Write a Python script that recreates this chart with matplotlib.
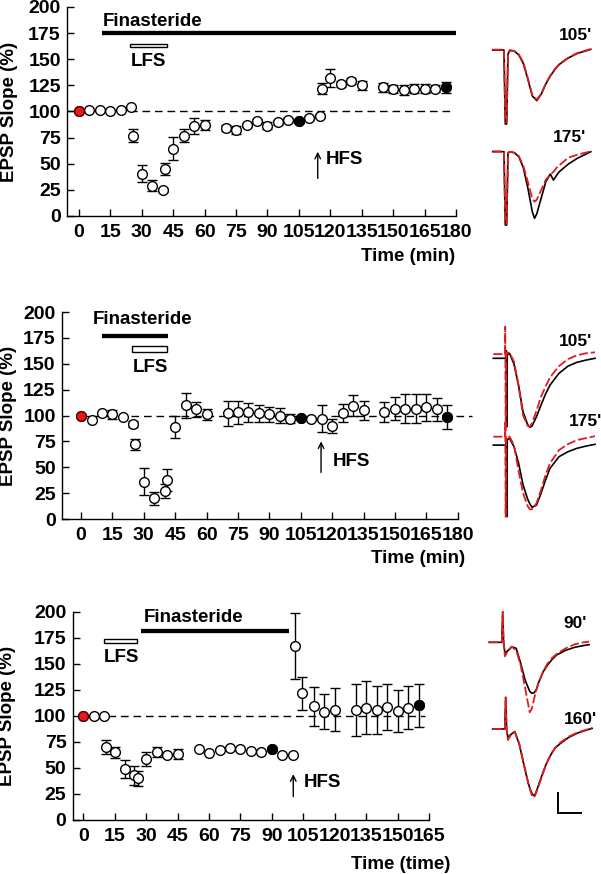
import matplotlib
matplotlib.use('Agg')
import matplotlib.pyplot as plt
from matplotlib.patches import Rectangle

plt.rcParams['font.family'] = ['Liberation Sans', 'DejaVu Sans']
plt.rcParams['font.weight'] = 'bold'
plt.rcParams['axes.labelweight'] = 'bold'
plt.rcParams['font.size'] = 13

# ---------------- data: time course (EPSP slope, % of baseline) ----------------
# panel A: finasteride from 10 min to the end, LFS then HFS
t_a = [0, 5, 10, 15, 20, 25, 26, 30, 35, 40, 41, 45, 50, 55, 60, 70, 75, 80, 85, 90,
       95, 100, 105, 110, 115, 116, 120, 125, 130, 135, 145, 150, 155, 160, 165, 170, 175]
y_a = [100, 101.5, 101, 100, 101, 104, 77, 40.5, 29, 25, 45, 64.5, 77, 86, 87, 84.5, 82, 87, 91, 86.5,
       89.5, 92, 91, 94, 95.5, 122, 132, 126, 129, 125, 123, 121.5, 120.5, 122, 122, 122, 123]
e_a = [0, 0, 0, 0, 0, 0, 6, 8, 5, 2, 6, 11, 6, 8, 5, 3, 4, 2, 2, 3,
       2, 2, 2, 2, 2, 5, 9, 3, 3, 4, 4, 4, 5, 4, 4, 3, 5]

# panel B: finasteride only around LFS
t_b = [0, 5, 10, 15, 20, 25, 26, 30, 35, 40, 41, 45, 50, 55, 60, 70, 75, 80, 85, 90,
       95, 100, 105, 110, 115, 120, 125, 130, 135, 145, 150, 155, 160, 165, 170, 175]
y_b = [100, 96, 102, 101, 99, 92, 72, 36, 20, 27, 38, 89, 110, 106, 101, 102, 103, 103, 102, 101,
       100, 97, 98, 97, 97, 90, 102.5, 109.5, 105, 103.5, 106.5, 106.5, 106.5, 108, 106, 98.5]
e_b = [0, 0, 0, 4, 0, 3, 5, 13, 6, 7, 10.5, 11, 12, 7, 5, 12, 11, 9, 8, 7,
       7, 4, 0, 0, 13, 7, 9, 10, 9, 10, 11, 14, 14, 13, 11, 12]

# panel C: finasteride after LFS
t_c = [0, 5, 10, 11, 15, 20, 24, 26, 30, 35, 40, 45, 55, 60, 65, 70, 75, 80, 85, 90,
       95, 100, 101, 104.5, 110, 115, 120, 130, 135, 140, 145, 150, 155, 160]
y_c = [100, 100, 100, 70, 65, 49, 43, 40, 58.5, 65.5, 62.5, 63.5, 68, 64, 67, 69, 68.5, 66, 65, 68,
       62.4, 62.4, 167, 121.5, 109, 104, 106, 106, 108, 105.7, 108.8, 104.7, 108, 110]
e_c = [0, 0, 0, 7, 5, 9, 9, 7, 7, 5, 0, 5, 0, 0, 0, 0, 0, 0, 0, 0,
       0, 0, 32, 16, 19, 17, 21, 25, 25, 23, 22, 20, 21, 21]

# filled symbols (times at which the sample traces were taken)
red_times = [0]
black_a = [105, 175]
black_b = [105, 175]
black_c = [90, 160]

# drug / stimulation windows (min)
fin_a = (10.8, 180)
fin_b = (9.9, 41.7)
fin_c = (27.3, 98.3)
lfs_a = (24.3, 41.9)
lfs_b = (24.5, 41.2)
lfs_c = (9.9, 25.5)
hfs_a = 114
hfs_b = 114.7
hfs_c = 100.2

xticks_a = list(range(0, 181, 15))
xticks_c = list(range(0, 166, 15))
yticks = list(range(0, 201, 25))

# ---------------- data: sample field EPSPs (ms, mV) ----------------
tr_t1 = [-2.8, -0.3, 0, 0.3, 0.6, 1, 2, 3, 4, 5, 6, 7, 8, 9, 10, 11, 12, 14, 16, 19]
a105_blk = [0, 0, -3.7, -3.7, -0.2, -0.03, -0.05, -0.25, -0.67, -1.45, -2.3, -2.53, -2.2, -1.7,
            -1.3, -0.98, -0.72, -0.4, -0.17, 0.03]
a105_red = [0.02, 0.02, -3.6, -3.6, -0.15, 0, -0.05, -0.22, -0.62, -1.4, -2.25, -2.48, -2.18, -1.68,
            -1.28, -0.95, -0.7, -0.38, -0.15, 0.05]

tr_t2 = [-2.8, -0.3, 0, 0.3, 0.6, 1, 2, 3, 4, 5, 6, 6.5, 7, 8, 9, 10, 10.7, 11.5, 12, 14, 16, 19]
a175_blk = [0, 0, -3.67, -3.67, -0.08, 0, -0.05, -0.25, -0.8, -1.8, -3.0, -3.33, -3.1, -2.3, -1.5,
            -1.12, -1.42, -1.15, -1.0, -0.62, -0.33, 0]
a175_red = [0.02, 0.02, -3.6, -3.6, -0.05, 0, -0.05, -0.22, -0.7, -1.5, -2.35, -2.5, -2.4, -1.9, -1.4,
            -1.15, -1.0, -0.78, -0.68, -0.3, -0.15, 0.02]

tr_t3 = [-2.6, 0, 0.05, 0.15, 0.3, 0.4, 0.5, 1, 2, 3, 4, 5, 5.5, 6, 7, 8, 9, 10, 12, 14, 16, 18, 20]
b105_red = [0.13, 0.13, 1.5, -3.7, 0.13, 0.2, 0.2, 0.2, -0.25, -1.42, -2.92, -3.45, -3.5, -3.33, -2.7,
            -2.0, -1.5, -1.03, -0.47, -0.12, 0.07, 0.17, 0.22]
b105_blk = [-0.08, -0.08, -0.08, -0.08, 0.3, -3.5, 0.1, 0.17, -0.37, -1.42, -2.75, -3.38, -3.53, -3.47,
            -3.0, -2.42, -1.87, -1.42, -0.83, -0.47, -0.28, -0.17, -0.08]
b175_red = [0.2, 0.2, 0.9, -3.8, 0.2, 0.25, 0.25, 0.2, -0.22, -1.5, -2.6, -3.25, -3.43, -3.43, -3.13,
            -2.47, -1.72, -1.13, -0.47, -0.17, 0.03, 0.13, 0.23]
b175_blk = [-0.22, -0.22, -0.22, -0.22, 0.1, -3.8, 0.05, 0.12, -0.3, -1.1, -2.2, -2.9, -3.15, -3.33,
            -3.22, -2.63, -1.97, -1.38, -0.8, -0.55, -0.38, -0.27, -0.18]

tr_t4 = [-3, -0.2, 0, 0.2, 0.5, 1, 2, 3, 4, 5, 6, 6.5, 7, 7.5, 8, 9, 10, 11, 12, 14, 16, 18, 19.2]
c90_red = [0, 0, 1.53, 0, -0.7, -0.5, -0.22, -0.4, -1.15, -2.3, -3.5, -3.3, -2.8, -2.38, -2.0,
           -1.45, -1.05, -0.78, -0.58, -0.3, -0.1, 0.0, 0.03]
c90_blk = [0, 0, 1.4, 0, -0.55, -0.45, -0.22, -0.3, -1.05, -1.9, -2.45, -2.55, -2.52, -2.35, -2.0,
           -1.47, -1.13, -0.85, -0.63, -0.4, -0.25, -0.16, -0.12]

tr_t5 = [-2.9, -0.2, 0, 0.2, 0.5, 1, 2, 3, 4, 5, 5.5, 6, 6.5, 7, 8, 9, 10, 11, 12, 14, 16, 18, 19.2]
c160_blk = [0, 0, 1.58, 0, -0.45, -0.3, -0.13, -0.75, -1.75, -2.7, -3.05, -3.3, -3.3, -3.0, -2.35,
            -1.75, -1.3, -0.95, -0.75, -0.42, -0.2, -0.05, 0.03]
c160_red = [0, 0, 1.58, 0, -0.55, -0.35, -0.13, -0.72, -1.7, -2.7, -3.1, -3.42, -3.35, -3.05, -2.4,
            -1.75, -1.28, -0.93, -0.7, -0.38, -0.17, -0.03, 0.05]

scale_ms = 5
scale_mv = 1

RED = '#e41a1c'
W, H = 601, 874
fig = plt.figure(figsize=(W / 100, H / 100), dpi=100)


def px_axes(left, top, right, bottom):
    return fig.add_axes([left / W, 1 - bottom / H, (right - left) / W, (bottom - top) / H])


def time_course(ax, t, y, e, black_t, xlim, xticks, dash_x, xlab, xlab_pos, ylab_x,
                fin, fin_y, fin_txt, lfs, lfs_y, lfs_txt, hfs, hfs_y, hfs_txt):
    ax.set_xlim(*xlim)
    ax.set_ylim(0, 200)
    for s in ['top', 'right']:
        ax.spines[s].set_visible(False)
    for s in ['left', 'bottom']:
        ax.spines[s].set_linewidth(1.0)
    ax.set_xticks(xticks)
    ax.set_yticks(yticks)
    ax.tick_params(direction='in', length=5, width=1, labelsize=14)
    ax.tick_params(axis='x', pad=5.5)
    ax.tick_params(axis='y', pad=4.5)
    for lbl in ax.get_xticklabels() + ax.get_yticklabels():
        lbl.set_fontweight('bold')

    ax.plot(dash_x, [100, 100], color='black', lw=1, dashes=(5.5, 3.5), zorder=1, clip_on=False)
    ax.errorbar(t, y, yerr=e, fmt='none', ecolor='black', elinewidth=1, capsize=3.5,
                capthick=1, zorder=2, clip_on=False)
    ax.plot(t, y, 'o', mfc='white', mec='black', ms=7, mew=1, zorder=3, clip_on=False)
    for tt, yy in zip(t, y):
        if tt in red_times:
            ax.plot(tt, yy, 'o', mfc=RED, mec='#600000', ms=7, mew=1, zorder=4, clip_on=False)
        if tt in black_t:
            ax.plot(tt, yy, 'o', mfc='black', mec='black', ms=7, mew=1, zorder=4, clip_on=False)

    # finasteride bar
    ax.plot(fin, [fin_y, fin_y], color='black', lw=3.1, solid_capstyle='butt', clip_on=False)
    ax.text(fin_txt[0], fin_txt[1], 'Finasteride', ha='left', va='center', fontsize=13.5,
            fontweight='bold')
    # LFS box
    ax.add_patch(Rectangle((lfs[0], lfs_y[0]), lfs[1] - lfs[0], lfs_y[1] - lfs_y[0],
                           fc='white', ec='black', lw=1.0, clip_on=False))
    ax.text(lfs_txt[0], lfs_txt[1], 'LFS', ha='center', va='center', fontsize=13.5, fontweight='bold')
    # HFS arrow
    ax.annotate('', xy=(hfs, hfs_y[1]), xytext=(hfs, hfs_y[0]),
                arrowprops=dict(arrowstyle='->', lw=1, color='black', mutation_scale=10,
                                shrinkA=0, shrinkB=0))
    ax.text(hfs_txt[0], hfs_txt[1], 'HFS', ha='left', va='center', fontsize=13.5, fontweight='bold')

    ax.set_xlabel(xlab, fontsize=13.5, fontweight='bold')
    ax.xaxis.label.set_ha('right')
    ax.xaxis.label.set_va('center')
    ax.xaxis.set_label_coords(*xlab_pos)
    ax.set_ylabel('EPSP Slope (%)', fontsize=13.5, fontweight='bold')
    ax.yaxis.label.set_va('center')
    ax.yaxis.set_label_coords(ylab_x, 0.5)


ax1 = px_axes(67, 7, 456, 216)
time_course(ax1, t_a, y_a, e_a, black_a, (-5.7, 180), xticks_a, (-5.7, 178),
            'Time (min)', (0.997, -0.196), -0.149,
            fin_a, 175, (11.5, 186.6), lfs_a, (161.3, 164.5), (33, 148),
            hfs_a, (36, 61.5), (118, 53.6))

ax2 = px_axes(62, 312, 457.7, 519)
time_course(ax2, t_b, y_b, e_b, black_b, (-9.1, 180), xticks_a, (0, 187),
            'Time (min)', (1.018, -0.19), -0.136,
            fin_b, 177, (5.6, 192.3), lfs_b, (161, 167), (33.4, 146),
            hfs_b, (45, 75), (120.3, 56))

ax3 = px_axes(72.7, 611.7, 429, 820)
time_course(ax3, t_c, y_c, e_c, black_c, (-5.1, 165), xticks_c, (0, 163),
            'Time (time)', (1.059, -0.216), -0.182,
            fin_c, 181, (29, 194), lfs_c, (170.3, 173.9), (18, 156),
            hfs_c, (22.4, 44), (105, 36))

# ---------------- sample traces ----------------
PX_MS = 4.5   # pixels per ms
PX_MV = 20.0  # pixels per mV


def trace_axes(stim_x, base_y):
    ax = px_axes(stim_x - 4 * PX_MS, base_y - 2 * PX_MV, stim_x + 22 * PX_MS, base_y + 5 * PX_MV)
    ax.set_xlim(-4, 22)
    ax.set_ylim(-5, 2)
    ax.axis('off')
    ax.patch.set_alpha(0)
    return ax


def pair(ax, t, blk, red):
    ax.plot(t, blk, color='black', lw=1.2, zorder=2, clip_on=False)
    ax.plot(t, red, color=RED, lw=1.3, dashes=(5, 1.6), zorder=3, clip_on=False)


pair(trace_axes(505.3, 50), tr_t1, a105_blk, a105_red)
pair(trace_axes(505.3, 151.7), tr_t2, a175_blk, a175_red)
pair(trace_axes(505, 356.7), tr_t3, b105_blk, b105_red)
pair(trace_axes(505, 440.7), tr_t3, b175_blk, b175_red)
pair(trace_axes(502.7, 642.3), tr_t4, c90_blk, c90_red)
ax_last = trace_axes(505.7, 729)
pair(ax_last, tr_t5, c160_blk, c160_red)

# scale bar
sb_x, sb_y = 11.7, -4.2
ax_last.plot([sb_x, sb_x, sb_x + scale_ms], [sb_y + scale_mv, sb_y, sb_y],
             color='black', lw=1.4, clip_on=False, solid_joinstyle='miter')

for txt, x, y in [("105'", 575, 36), ("175'", 569, 138), ("105'", 576, 342),
                  ("175'", 585, 422), ("90'", 575.5, 623), ("160'", 580, 719)]:
    fig.text(x / W, 1 - y / H, txt, ha='center', va='center', fontsize=12.5, fontweight='bold')

fig.savefig('out.png', dpi=100)
